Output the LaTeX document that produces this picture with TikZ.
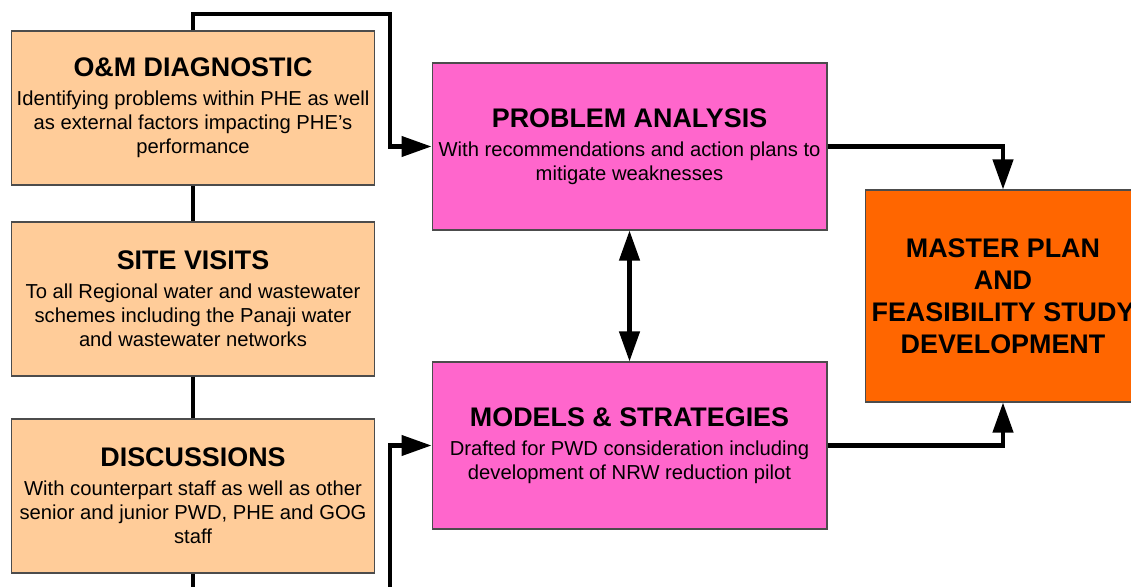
\documentclass[tikz,border=0pt]{standalone}
\usepackage{fontspec}
\setmainfont{Liberation Sans}
\usetikzlibrary{arrows.meta}
\definecolor{peach}{HTML}{FFCC99}
\definecolor{pinkbox}{HTML}{FF66CC}
\definecolor{orangebox}{HTML}{FF6600}
\newcommand{\ttl}{\bfseries\fontsize{15.3}{17}\selectfont}

\begin{document}
\begin{tikzpicture}[x=0.02cm, y=-0.02cm, >={Triangle[length=0.6cm,width=0.4cm]},
    box/.style={draw=black!70, line width=0.6pt, align=center, inner sep=0pt,
        font=\fontsize{11.5}{13.6}\selectfont},
    leftbox/.style={box, fill=peach, minimum width=7.28cm, minimum height=3.08cm},
    midbox/.style={box, fill=pinkbox, minimum width=7.9cm, minimum height=3.34cm},
    endbox/.style={box, fill=orangebox, minimum width=5.52cm, minimum height=4.24cm,
        font=\bfseries\fontsize{15.3}{18.2}\selectfont},
    conn/.style={line width=2.4pt}]
    \useasboundingbox (0,0) rectangle (1131,587);
    \clip (0,0) rectangle (1131,587);
    % left column
    \node[leftbox] (om) at (193,108) {{\ttl O\&M DIAGNOSTIC}\\[3pt]
        Identifying problems within PHE as well\\as external factors impacting PHE’s\\performance};
    \node[leftbox] (sv) at (193,299) {{\ttl SITE VISITS}\\[3pt]
        To all Regional water and wastewater\\schemes including the Panaji water\\and wastewater networks};
    \node[leftbox] (ds) at (193,496) {{\ttl DISCUSSIONS}\\[3pt]
        With counterpart staff as well as other\\senior and junior PWD, PHE and GOG\\staff};
    % middle column
    \node[midbox] (pa) at (629.5,146.5) {{\ttl PROBLEM ANALYSIS}\\[3pt]
        With recommendations and action plans to\\mitigate weaknesses};
    \node[midbox] (ms) at (629.5,445.5) {{\ttl MODELS \& STRATEGIES}\\[3pt]
        Drafted for PWD consideration including\\development of NRW reduction pilot};
    % result
    \node[endbox] (mp) at (1003,296) {MASTER PLAN\\AND\\FEASIBILITY STUDY\\DEVELOPMENT};
    \coordinate (topbend) at (390,14);
    \coordinate (botend) at (390,600);
    \coordinate (dsend) at (193,600);
    \draw[conn,->] (om.north) |- (topbend) |- (pa.west);
    \draw[conn,->] (botend) |- (ms.west);
    \draw[conn] (om.south) -- (sv.north);
    \draw[conn] (sv.south) -- (ds.north);
    \draw[conn] (ds.south) -- (dsend);
    \draw[conn,<->] (pa.south) -- (ms.north);
    \draw[conn,->] (pa.east) -| (mp.north);
    \draw[conn,->] (ms.east) -| (mp.south);
\end{tikzpicture}
\end{document}
